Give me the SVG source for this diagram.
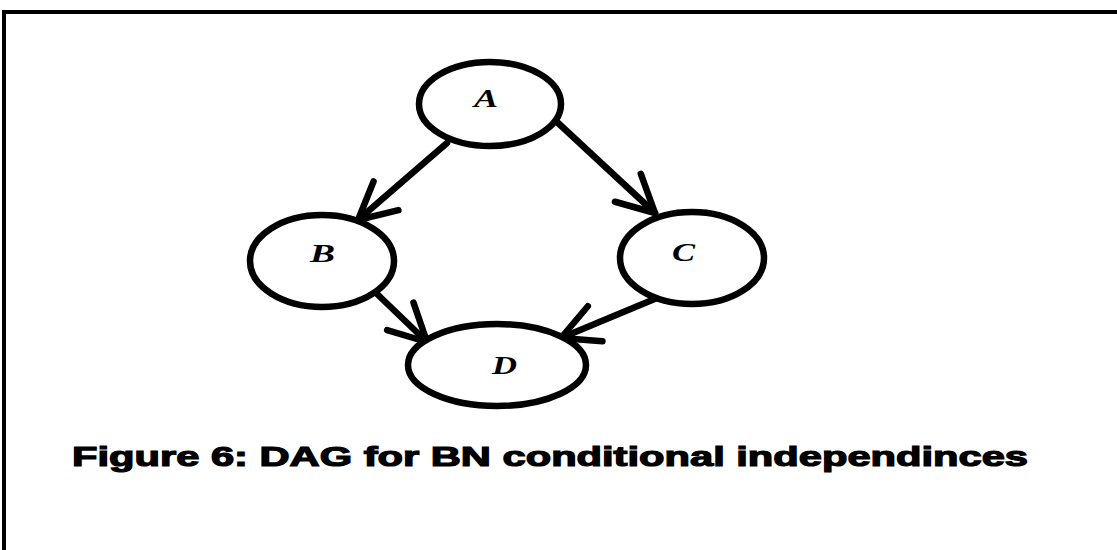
<svg xmlns="http://www.w3.org/2000/svg" width="1117" height="550" viewBox="0 0 1117 550">
<style>
.node ellipse{fill:#fff;stroke:#000;stroke-width:6.5}
.lbl{font-family:"Liberation Serif",serif;font-style:italic;font-weight:bold;font-size:26px;fill:#000}
.edge{stroke:#000;stroke-width:6.5;fill:none;stroke-linecap:round}
.cap{font-family:"Liberation Sans",Arial,sans-serif;font-weight:bold;font-size:27px;fill:#000;stroke:#000;stroke-width:1.2}
</style>
<defs>
<marker id="arr" markerUnits="userSpaceOnUse" markerWidth="50" markerHeight="50" viewBox="-45 -25 50 50" refX="0" refY="0" orient="auto">
<path d="M-37,-19 L0,0 L-37,19" fill="none" stroke="#000" stroke-width="6.5" stroke-linecap="round" stroke-linejoin="round"/>
</marker>
</defs>
<rect width="1117" height="550" fill="#fff"/>
<path d="M4,550 V12 H1117" fill="none" stroke="#000" stroke-width="4"/>
<g id="edges">
<line class="edge" x1="447" y1="143" x2="358" y2="220" marker-end="url(#arr)"/>
<line class="edge" x1="557" y1="122" x2="655" y2="213" marker-end="url(#arr)"/>
<line class="edge" x1="375" y1="292" x2="427" y2="342" marker-end="url(#arr)"/>
<line class="edge" x1="657" y1="298" x2="561" y2="338" marker-end="url(#arr)"/>
</g>
<g id="node-A" class="node"><ellipse cx="490" cy="104" rx="71" ry="42"/><text class="lbl" x="474" y="107" textLength="24" lengthAdjust="spacingAndGlyphs">A</text></g>
<g id="node-B" class="node"><ellipse cx="322" cy="261" rx="72" ry="46"/><text class="lbl" x="310" y="262" textLength="25" lengthAdjust="spacingAndGlyphs">B</text></g>
<g id="node-C" class="node"><ellipse cx="692" cy="258" rx="72" ry="46"/><text class="lbl" x="672" y="261" textLength="23" lengthAdjust="spacingAndGlyphs">C</text></g>
<g id="node-D" class="node"><ellipse cx="497" cy="365" rx="89" ry="41"/><text class="lbl" x="492" y="374" textLength="25" lengthAdjust="spacingAndGlyphs">D</text></g>
<text class="cap" x="72" y="466" textLength="956" lengthAdjust="spacingAndGlyphs">Figure 6: DAG for BN conditional independinces</text>
</svg>
